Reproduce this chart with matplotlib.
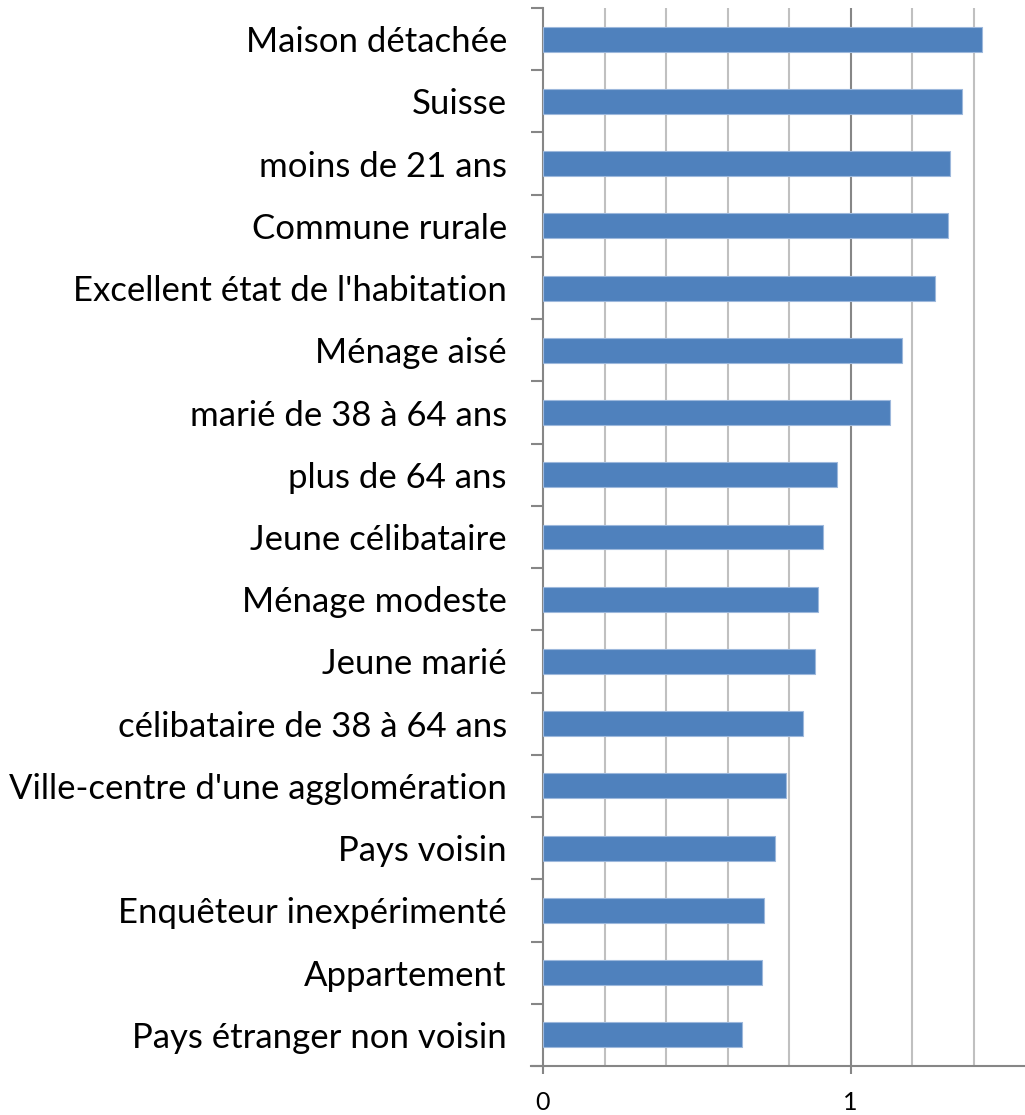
import matplotlib
matplotlib.use("Agg")
import matplotlib.pyplot as plt
import numpy as np

labels = ["Maison détachée", "Suisse", "moins de 21 ans", "Commune rurale",
          "Excellent état de l'habitation", "Ménage aisé", "marié de 38 à 64 ans",
          "plus de 64 ans", "Jeune célibataire", "Ménage modeste", "Jeune marié",
          "célibataire de 38 à 64 ans", "Ville-centre d'une agglomération",
          "Pays voisin", "Enquêteur inexpérimenté", "Appartement",
          "Pays étranger non voisin"]
values = [1.427, 1.362, 1.325, 1.318, 1.274, 1.166, 1.127, 0.955, 0.911,
          0.895, 0.884, 0.844, 0.790, 0.755, 0.718, 0.713, 0.647]

plt.rcParams['font.family'] = ['Lato', 'DejaVu Sans']

fig = plt.figure(figsize=(10.25, 11.15), dpi=100)
W, H = 1025, 1115
x0, x1 = 543, 1035
y_top, y_bot = 8, 1066
ax = fig.add_axes([x0 / W, 1 - y_bot / H, (x1 - x0) / W, (y_bot - y_top) / H])

n = len(labels)
pos = np.arange(n)[::-1]
ax.barh(pos, values, height=0.4, color="#4F81BD", edgecolor="#9DB8DC",
        linewidth=0.8, zorder=3)

ax.set_ylim(-0.5, n - 0.5)
ax.set_xlim(0, 1.6)

# gridlines: minor every 0.2, major at 1
for g in np.arange(0.2, 1.61, 0.2):
    if abs(g - 1) < 1e-6:
        ax.axvline(g, color="#868686", lw=1.5, zorder=1)
    else:
        ax.axvline(g, color="#C0C0C0", lw=1.5, zorder=1)

ax.set_yticks(pos)
ax.set_yticklabels(labels, fontsize=25)
ax.tick_params(axis="y", length=0, pad=26)
ax.set_yticks(np.arange(-0.5, n, 1), minor=True)
ax.tick_params(axis="y", which="minor", length=9, width=1.5, color="#868686")

ax.set_xticks([0, 1])
ax.set_xticklabels(["0", "1"], fontsize=18)
ax.tick_params(axis="x", length=6, width=1.5, color="#868686", pad=12)

for s in ["top", "right"]:
    ax.spines[s].set_visible(False)
for s in ["left", "bottom"]:
    ax.spines[s].set_color("#868686")
    ax.spines[s].set_linewidth(1.5)
ax.spines["bottom"].set_bounds(-0.04, 1.6)
ax.spines["bottom"].set_clip_on(False)

fig.savefig("out.png", dpi=100)
